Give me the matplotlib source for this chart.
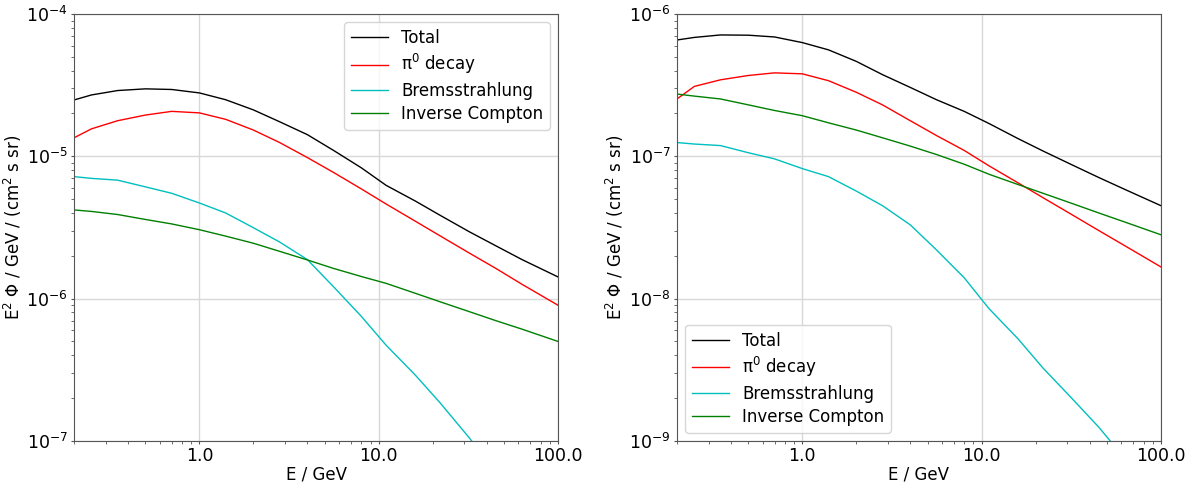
import numpy as np
import matplotlib
matplotlib.use('Agg')
import matplotlib.pyplot as plt
from matplotlib.ticker import FixedLocator, FixedFormatter

# energy grid (GeV)
energy = [0.2, 0.25, 0.35, 0.5, 0.7, 1.0, 1.4, 2.0, 2.8, 4.0, 5.6, 8.0,
          11.0, 16.0, 22.0, 32.0, 45.0, 63.0, 100.0]

# left panel
left_total = [2.49e-5, 2.7e-5, 2.9e-5, 2.98e-5, 2.95e-5, 2.79e-5, 2.5e-5, 2.12e-5,
              1.75e-5, 1.42e-5, 1.1e-5, 8.3e-6, 6.25e-6, 4.85e-6, 3.85e-6, 2.95e-6,
              2.35e-6, 1.88e-6, 1.42e-6]
left_pi0 = [1.35e-5, 1.56e-5, 1.78e-5, 1.95e-5, 2.07e-5, 2.02e-5, 1.82e-5, 1.53e-5,
            1.25e-5, 9.8e-6, 7.7e-6, 5.9e-6, 4.62e-6, 3.5e-6, 2.76e-6, 2.09e-6,
            1.63e-6, 1.26e-6, 8.98e-7]
left_brems = [7.2e-6, 7.0e-6, 6.8e-6, 6.1e-6, 5.5e-6, 4.7e-6, 4.0e-6, 3.15e-6,
              2.5e-6, 1.88e-6, 1.21e-6, 7.5e-7, 4.7e-7, 2.9e-7, 1.85e-7, 1.05e-7,
              6.0e-8, 3.4e-8, 1.5e-8]
left_ic = [4.2e-6, 4.1e-6, 3.9e-6, 3.6e-6, 3.35e-6, 3.05e-6, 2.75e-6, 2.45e-6,
           2.15e-6, 1.87e-6, 1.63e-6, 1.43e-6, 1.28e-6, 1.09e-6, 9.5e-7, 8.1e-7,
           7.0e-7, 6.1e-7, 5.0e-7]

# right panel
right_total = [6.57e-7, 6.85e-7, 7.13e-7, 7.1e-7, 6.9e-7, 6.3e-7, 5.6e-7, 4.65e-7,
               3.75e-7, 3.05e-7, 2.5e-7, 2.07e-7, 1.7e-7, 1.33e-7, 1.09e-7, 8.7e-8,
               7.1e-8, 5.85e-8, 4.5e-8]
right_pi0 = [2.53e-7, 3.1e-7, 3.45e-7, 3.7e-7, 3.86e-7, 3.8e-7, 3.4e-7, 2.82e-7,
             2.3e-7, 1.78e-7, 1.4e-7, 1.1e-7, 8.57e-8, 6.5e-8, 5.12e-8, 3.88e-8,
             3.01e-8, 2.35e-8, 1.67e-8]
right_brems = [1.25e-7, 1.22e-7, 1.19e-7, 1.06e-7, 9.6e-8, 8.2e-8, 7.2e-8, 5.7e-8,
               4.5e-8, 3.3e-8, 2.2e-8, 1.4e-8, 8.5e-9, 5.2e-9, 3.25e-9, 1.98e-9,
               1.25e-9, 7.5e-10, 3.5e-10]
right_ic = [2.74e-7, 2.65e-7, 2.53e-7, 2.3e-7, 2.1e-7, 1.93e-7, 1.72e-7, 1.53e-7,
            1.35e-7, 1.18e-7, 1.03e-7, 8.8e-8, 7.48e-8, 6.33e-8, 5.5e-8, 4.66e-8,
            4.0e-8, 3.45e-8, 2.81e-8]

labels = ['Total', r'π$^0$ decay', 'Bremsstrahlung', 'Inverse Compton']
colors = ['k', 'r', 'c', 'g']
xticks = [1.0, 10.0, 100.0]
xticklabels = ['1.0', '10.0', '100.0']

fig = plt.figure(figsize=(11.95, 4.84), dpi=100)
ax1 = fig.add_axes([0.062, 0.089, 0.405, 0.882])
ax2 = fig.add_axes([0.5665, 0.089, 0.405, 0.882])

panels = [
    (ax1, [left_total, left_pi0, left_brems, left_ic], (1e-7, 1e-4), 'upper right'),
    (ax2, [right_total, right_pi0, right_brems, right_ic], (1e-9, 1e-6), 'lower left'),
]

for ax, series, ylim, loc in panels:
    for vals, lab, col in zip(series, labels, colors):
        ax.plot(energy, vals, color=col, lw=1.0, label=lab)
    ax.set_xscale('log')
    ax.set_yscale('log')
    ax.set_xlim(0.2, 100)
    ax.set_ylim(*ylim)
    ax.xaxis.set_major_locator(FixedLocator(xticks))
    ax.xaxis.set_major_formatter(FixedFormatter(xticklabels))
    ax.grid(True, which='major', color='#d8d8d8', lw=1.0)
    for sp in ax.spines.values():
        sp.set_color('#555555')
    ax.tick_params(which='major', labelsize=12.5, length=2.5, pad=2, color='#555555')
    ax.tick_params(which='minor', length=2, color='#555555')
    ax.set_xlabel('E / GeV', fontsize=12, labelpad=0)
    ax.set_ylabel('E$^2$ Φ / GeV / (cm$^2$ s sr)', fontsize=12, labelpad=2)
    ax.legend(loc=loc, fontsize=12, handlelength=2.2, labelspacing=0.32)

fig.savefig('out.png', dpi=100)
